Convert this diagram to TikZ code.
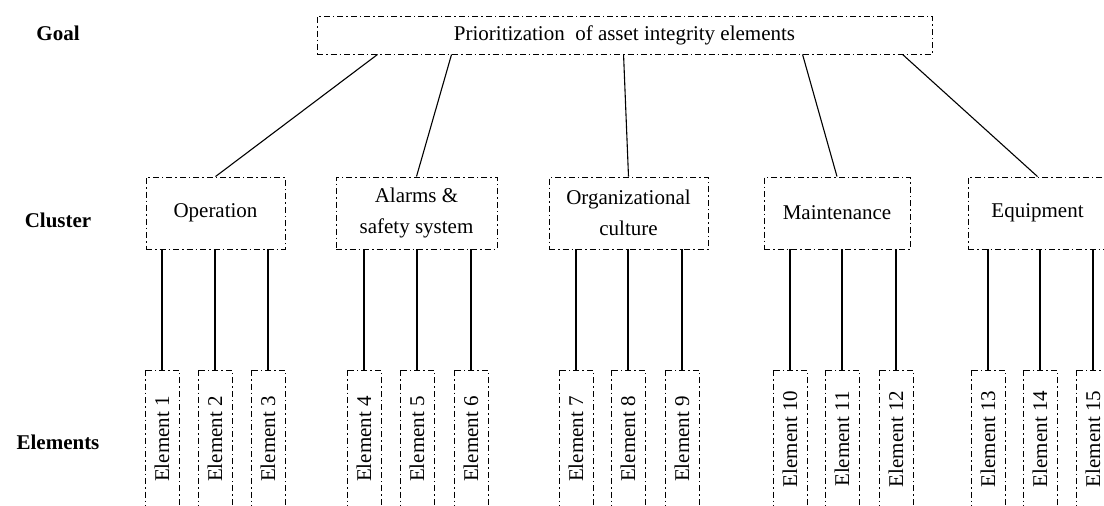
\documentclass[tikz,border=0pt]{standalone}
\usepackage{fontspec}
\setmainfont{Liberation Serif}
\usetikzlibrary{calc}

\tikzset{
  dashdot/.style={draw, line width=0.9pt, dash pattern=on 6pt off 3pt on 1.5pt off 3pt},
  cluster/.style={dashdot, minimum height=72pt, align=center, inner sep=2pt, font=\fontsize{21}{31}\selectfont},
  elem/.style={dashdot, rotate=90, minimum width=138pt, minimum height=34pt, inner sep=1pt},
  level/.style={font=\bfseries\fontsize{21}{24}\selectfont},
  link/.style={line width=1.1pt}
}

\begin{document}
\begin{tikzpicture}[x=1pt, y=-1pt, font=\fontsize{21}{24}\selectfont]
  \useasboundingbox (0,0) rectangle (1104,506);

  \node[level] (lgoal) at (58, 33) {Goal};
  \node[level] (lcluster) at (58, 220) {Cluster};
  \node[level] (lelem) at (58, 442) {Elements};

  \node[dashdot, minimum width=615pt, minimum height=38pt] (goal) at (624.5, 35) {Prioritization\ \ of asset integrity elements};

  \node[cluster, minimum width=139pt] (op) at (215.5, 213) {Operation};
  \node[cluster, minimum width=161pt] (alarm) at (416.5, 213) {Alarms \&\\safety system};
  \node[cluster, minimum width=159pt] (org) at (628.5, 213) {Organizational\\culture};
  \node[cluster, minimum width=146pt] (maint) at (837, 213) {Maintenance};
  \node[cluster, minimum width=139pt] (equip) at (1037.5, 213) {Equipment};

  \draw[link] ($(goal.south west)+(61,0)$) -- (op.north);
  \draw[link] ($(goal.south west)+(135,0)$) -- (alarm.north);
  \draw[link] ($(goal.south west)+(307,0)$) -- (org.north);
  \draw[link] ($(goal.south west)+(486,0)$) -- (maint.north);
  \draw[link] ($(goal.south west)+(586,0)$) -- (equip.north);

  \foreach \i/\x in {1/162, 2/215, 3/268, 4/364, 5/417, 6/471, 7/576, 8/628, 9/682,
                     10/790, 11/842, 12/896, 13/988, 14/1040, 15/1093}
    \node[elem] (e\i) at (\x, 439) {Element \i};

  \foreach \i/\c in {1/op, 2/op, 3/op, 4/alarm, 5/alarm, 6/alarm, 7/org, 8/org, 9/org,
                     10/maint, 11/maint, 12/maint, 13/equip, 14/equip, 15/equip}
    \draw[link] (e\i.east |- \c.south) -- (e\i.east);
\end{tikzpicture}
\end{document}
